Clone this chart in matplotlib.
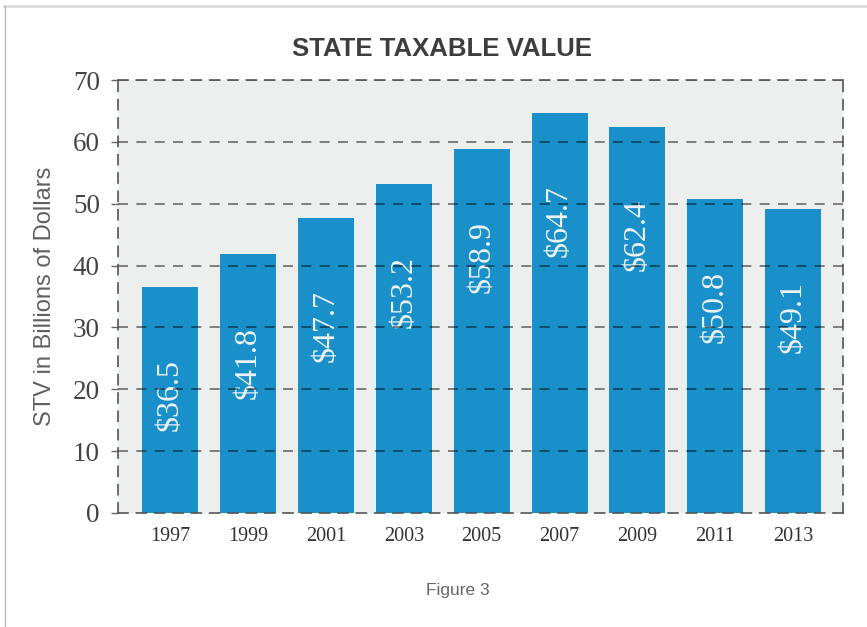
import matplotlib
matplotlib.use("Agg")
import matplotlib.pyplot as plt
from matplotlib.lines import Line2D

years = ["1997", "1999", "2001", "2003", "2005", "2007", "2009", "2011", "2013"]
values = [36.5, 41.8, 47.7, 53.2, 58.9, 64.7, 62.4, 50.8, 49.1]
labels = ["$36.5", "$41.8", "$47.7", "$53.2", "$58.9", "$64.7", "$62.4", "$50.8", "$49.1"]
yticks = [0, 10, 20, 30, 40, 50, 60, 70]

fig = plt.figure(figsize=(8.67, 6.27), dpi=100)
ax = fig.add_axes([118/867, 1 - 513/627, (843 - 118)/867, (513 - 80)/627])
ax.set_facecolor("#edeeee")

x = list(range(len(years)))
ax.bar(x, values, width=0.72, color="#1990ca", zorder=2)

for xi, v, lab in zip(x, values, labels):
    ax.annotate(lab, xy=(xi, v), xytext=(0, -52), textcoords="offset points",
                rotation=90, ha="center", va="top", color="#eef2f4",
                fontsize=23, family="Liberation Serif", zorder=3)

ax.set_xlim(-0.67, 8.64)
ax.set_ylim(0, 70)
ax.set_yticks(yticks)
ax.set_yticklabels([str(t) for t in yticks], family="Liberation Serif",
                   fontsize=19.5, color="#444444")
ax.set_xticks(x)
ax.set_xticklabels(years, family="Liberation Serif", fontsize=14.5, color="#333333")
ax.tick_params(axis="x", length=0, pad=10)
ax.tick_params(axis="y", length=5, width=1, color="#666666", pad=8)

for t in yticks[1:]:
    ax.axhline(t, color="black", alpha=0.55, lw=1.2, ls=(0, (6, 5)), zorder=4)

for side in ["left", "right", "top", "bottom"]:
    ax.spines[side].set_linestyle((0, (6, 5)))
    ax.spines[side].set_color("#555555")
    ax.spines[side].set_linewidth(1.2)
    ax.spines[side].set_zorder(5)

ax.set_ylabel("STV in Billions of Dollars", family="Liberation Sans", fontsize=17,
              color="#606060", labelpad=12)

fig.text(442/867, 1 - 49/627, "STATE TAXABLE VALUE", ha="center", va="center",
         family="Liberation Sans", fontweight="bold", fontsize=18.5, color="#3d3d3d")
fig.text(458/867, 1 - 590/627, "Figure 3", ha="center", va="center",
         family="Liberation Sans", fontsize=12.5, color="#666666")

fig.add_artist(Line2D([4/867, 1], [1 - 5.5/627, 1 - 5.5/627], transform=fig.transFigure,
                      color="#dddddd", lw=2))
fig.add_artist(Line2D([4.5/867, 4.5/867], [0, 1 - 5.5/627], transform=fig.transFigure,
                      color="#bbbbbb", lw=1))

fig.savefig("out.png", dpi=100)
